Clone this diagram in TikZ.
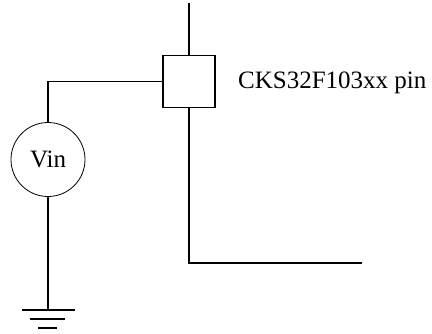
\documentclass[tikz,border=0pt]{standalone}
\usepackage{fontspec}
\setmainfont{Liberation Serif}

\begin{document}
\begin{tikzpicture}[x=1pt,y=-1pt,
    wire/.style={line width=1.3pt},
    pinbox/.style={draw,line width=1.3pt,minimum size=52pt,inner sep=0pt},
    source/.style={draw,circle,line width=0.8pt,minimum size=74pt,inner sep=0pt,font=\fontsize{25}{30}\selectfont},
    gnd/.style={line width=1.8pt}]
    \useasboundingbox (0,0) rectangle (432,333);

    \node[pinbox] (pin) at (189,81.5) {};
    \node[source] (vin) at (48,159.5) {Vin};
    \node[anchor=base west,inner sep=0pt,font=\fontsize{25}{30}\selectfont] (lbl) at (238,88) {CKS32F103xx pin};

    \coordinate (top) at (189,3);
    \coordinate (out) at (362,263);
    \coordinate (gnd) at (48,310);

    \draw[wire] (top) -- (pin.north);
    \draw[wire] (pin.west) -| (vin.north);
    \draw[wire] (vin.south) -- (gnd);
    \draw[wire] (pin.south) |- (out);

    \draw[gnd] (22,310) -- (75,310);
    \draw[gnd] (30,319) -- (65,319);
    \draw[gnd] (38,328) -- (57,328);
\end{tikzpicture}
\end{document}
